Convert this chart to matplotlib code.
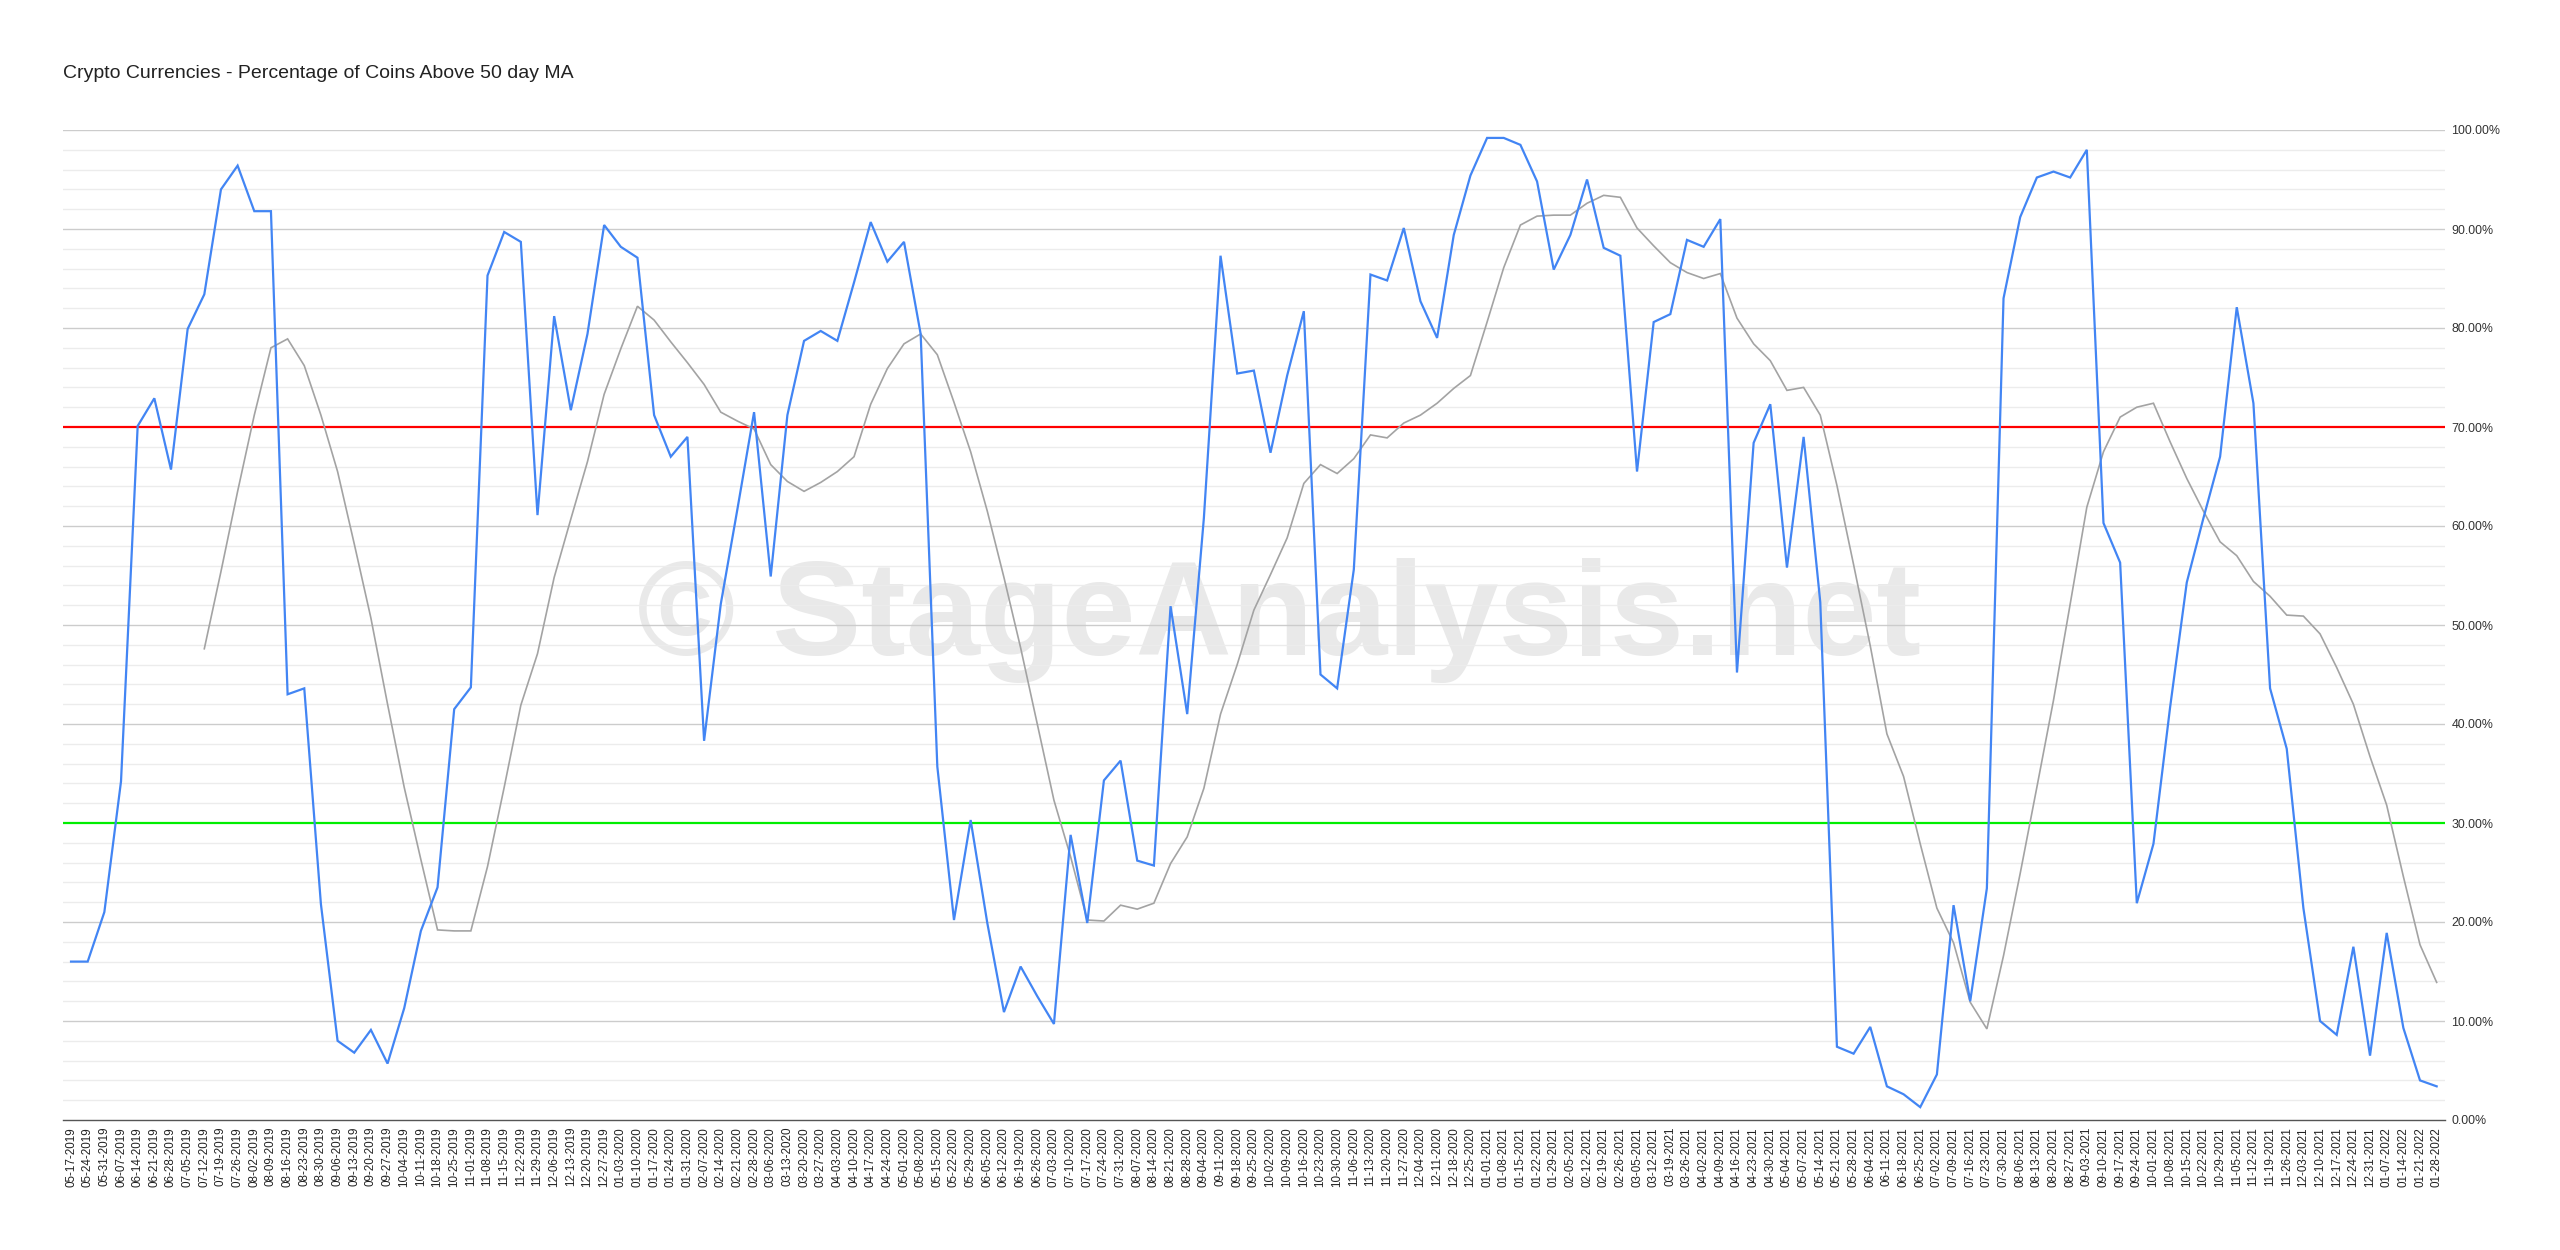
import matplotlib
matplotlib.use("Agg")
import matplotlib.pyplot as plt
import numpy as np

dates = [
    "05-17-2019", "05-24-2019", "05-31-2019", "06-07-2019", "06-14-2019", "06-21-2019", "06-28-2019",
    "07-05-2019", "07-12-2019", "07-19-2019", "07-26-2019", "08-02-2019", "08-09-2019", "08-16-2019",
    "08-23-2019", "08-30-2019", "09-06-2019", "09-13-2019", "09-20-2019", "09-27-2019", "10-04-2019",
    "10-11-2019", "10-18-2019", "10-25-2019", "11-01-2019", "11-08-2019", "11-15-2019", "11-22-2019",
    "11-29-2019", "12-06-2019", "12-13-2019", "12-20-2019", "12-27-2019",
    "01-03-2020", "01-10-2020", "01-17-2020", "01-24-2020", "01-31-2020", "02-07-2020", "02-14-2020",
    "02-21-2020", "02-28-2020", "03-06-2020", "03-13-2020", "03-20-2020", "03-27-2020", "04-03-2020",
    "04-10-2020", "04-17-2020", "04-24-2020", "05-01-2020", "05-08-2020", "05-15-2020", "05-22-2020",
    "05-29-2020", "06-05-2020", "06-12-2020", "06-19-2020", "06-26-2020", "07-03-2020", "07-10-2020",
    "07-17-2020", "07-24-2020", "07-31-2020", "08-07-2020", "08-14-2020", "08-21-2020", "08-28-2020",
    "09-04-2020", "09-11-2020", "09-18-2020", "09-25-2020", "10-02-2020", "10-09-2020", "10-16-2020",
    "10-23-2020", "10-30-2020", "11-06-2020", "11-13-2020", "11-20-2020", "11-27-2020", "12-04-2020",
    "12-11-2020", "12-18-2020", "12-25-2020",
    "01-01-2021", "01-08-2021", "01-15-2021", "01-22-2021", "01-29-2021", "02-05-2021", "02-12-2021",
    "02-19-2021", "02-26-2021", "03-05-2021", "03-12-2021", "03-19-2021", "03-26-2021", "04-02-2021",
    "04-09-2021", "04-16-2021", "04-23-2021", "04-30-2021", "05-04-2021", "05-07-2021", "05-14-2021",
    "05-21-2021", "05-28-2021", "06-04-2021", "06-11-2021", "06-18-2021", "06-25-2021", "07-02-2021",
    "07-09-2021", "07-16-2021", "07-23-2021", "07-30-2021", "08-06-2021", "08-13-2021", "08-20-2021",
    "08-27-2021", "09-03-2021", "09-10-2021", "09-17-2021", "09-24-2021", "10-01-2021", "10-08-2021",
    "10-15-2021", "10-22-2021", "10-29-2021", "11-05-2021", "11-12-2021", "11-19-2021", "11-26-2021",
    "12-03-2021", "12-10-2021", "12-17-2021", "12-24-2021", "12-31-2021",
    "01-07-2022", "01-14-2022", "01-21-2022", "01-28-2022",
]

pct_above_50ma = [
    16.0, 16.0, 21.0, 34.2, 70.1, 72.9, 65.7, 79.9, 83.4, 94.0,
    96.4, 91.8, 91.8, 43.0, 43.6, 21.8, 8.0, 6.8, 9.1, 5.7,
    11.3, 19.1, 23.5, 41.5, 43.7, 85.3, 89.7, 88.7, 61.1, 81.2,
    71.7, 79.4, 90.4, 88.2, 87.1, 71.2, 67.0, 69.0, 38.3, 52.1,
    61.7, 71.5, 54.9, 71.2, 78.7, 79.7, 78.7, 84.6, 90.7, 86.7,
    88.7, 79.4, 35.7, 20.2, 30.3, 19.9, 10.9, 15.5, 12.5, 9.7,
    28.8, 19.9, 34.3, 36.3, 26.2, 25.7, 51.9, 41.0, 60.8, 87.3,
    75.4, 75.7, 67.4, 75.2, 81.7, 45.0, 43.6, 55.6, 85.4, 84.8,
    90.1, 82.7, 79.0, 89.4, 95.4, 99.2, 99.2, 98.5, 94.8, 85.9,
    89.4, 95.0, 88.1, 87.3, 65.5, 80.6, 81.4, 88.9, 88.2, 91.0,
    45.2, 68.4, 72.3, 55.8, 69.0, 52.3, 7.4, 6.7, 9.4, 3.4,
    2.6, 1.3, 4.6, 21.7, 12.0, 23.4, 83.0, 91.2, 95.2, 95.8,
    95.2, 98.0, 60.3, 56.3, 21.9, 27.9, 41.7, 54.3, 60.8, 67.0,
    82.1, 72.4, 43.6, 37.5, 21.4, 10.0, 8.6, 17.5, 6.5, 18.9,
    9.3, 4.0, 3.4,
]

moving_avg = [
    None, None, None, None, None, None, None, None,
    47.6, 55.4, 63.5, 71.2, 78.0, 78.9, 76.2, 71.2, 65.5, 58.2,
    50.7, 42.0, 33.6, 26.3, 19.2, 19.1, 19.1, 25.6, 33.6, 41.9,
    47.1, 54.8, 60.7, 66.5, 73.3, 77.9, 82.2, 80.8, 78.6, 76.5,
    74.3, 71.5, 70.6, 69.8, 66.2, 64.5, 63.5, 64.4, 65.5, 67.0,
    72.3, 75.9, 78.4, 79.4, 77.3, 72.5, 67.5, 61.5, 54.8, 47.7,
    40.0, 32.3, 26.6, 20.2, 20.1, 21.7, 21.3, 21.9, 25.9, 28.6,
    33.5, 41.0, 46.0, 51.5, 55.1, 58.8, 64.3, 66.2, 65.3, 66.8,
    69.2, 68.9, 70.4, 71.2, 72.4, 73.9, 75.2, 80.6, 86.1, 90.4,
    91.3, 91.4, 91.4, 92.6, 93.4, 93.2, 90.1, 88.3, 86.6, 85.6,
    85.0, 85.5, 81.0, 78.4, 76.7, 73.7, 74.0, 71.2, 64.1, 56.1,
    47.9, 39.0, 34.7, 27.9, 21.4, 17.9, 11.9, 9.2, 16.6, 24.9,
    33.6, 42.4, 52.1, 61.9, 67.5, 71.0, 72.0, 72.4, 68.5, 64.8,
    61.5, 58.4, 57.0, 54.4, 52.9, 51.0, 50.9, 49.1, 45.7, 42.0,
    36.7, 31.8, 24.6, 17.7, 13.9,
]

upper_level = 70
lower_level = 30
y_ticks = [0, 10, 20, 30, 40, 50, 60, 70, 80, 90, 100]
title = "Crypto Currencies - Percentage of Coins Above 50 day MA"
watermark = "\u00a9 StageAnalysis.net"

plt.rcParams['font.family'] = ['Liberation Sans', 'DejaVu Sans']

W, H = 2560, 1250
fig = plt.figure(figsize=(W / 100, H / 100), dpi=100)
fig.patch.set_facecolor("white")

left_px, right_px, top_px, bottom_px = 62.7, 2445.0, 130.0, 1120.0
ax = fig.add_axes([left_px / W, 1 - bottom_px / H, (right_px - left_px) / W, (bottom_px - top_px) / H])
ax.set_facecolor("white")

x = np.arange(len(dates))
blue = np.array(pct_above_50ma, dtype=float)
gray = np.array([np.nan if v is None else v for v in moving_avg], dtype=float)

# watermark
ax.text(0.5105, 0.505, watermark, transform=ax.transAxes, ha="center", va="center",
        fontsize=96, fontweight="bold", color="#e9e9e9", zorder=0.4)

# gridlines
for v in np.arange(0, 101, 2):
    if v % 10 == 0:
        continue
    ax.axhline(v, color="#ececec", lw=1.0, zorder=0.5)
for v in y_ticks:
    if v in (0, upper_level, lower_level):
        continue
    ax.axhline(v, color="#cccccc", lw=1.0, zorder=0.6)

ax.axhline(upper_level, color="#ff0000", lw=1.6, zorder=2)
ax.axhline(lower_level, color="#00ee00", lw=1.6, zorder=2)

ax.plot(x, gray, color="#a3a3a3", lw=1.2, zorder=3, solid_joinstyle="miter")
ax.plot(x, blue, color="#4285f4", lw=1.6, zorder=4, solid_joinstyle="miter")

ax.set_xlim(-0.5, len(dates) - 0.5)
ax.set_ylim(0, 100)

for s in ("left", "right", "top"):
    ax.spines[s].set_visible(False)
ax.spines["bottom"].set_color("#555555")
ax.spines["bottom"].set_linewidth(1.0)
ax.spines["bottom"].set_zorder(5)

ax.set_xticks(x)
ax.set_xticklabels(dates, rotation=90, fontsize=8.4, color="#222222")
ax.tick_params(axis="x", length=0, pad=5)

ax.yaxis.tick_right()
ax.set_yticks(y_ticks)
ax.set_yticklabels([f"{v:.2f}%" for v in y_ticks], fontsize=8.9, color="#333333")
ax.tick_params(axis="y", length=0, pad=4.5)

fig.text(left_px / W, 1 - 73 / H, title, ha="left", va="center", fontsize=14, color="#222222")

fig.savefig("out.png", dpi=100, facecolor="white")
